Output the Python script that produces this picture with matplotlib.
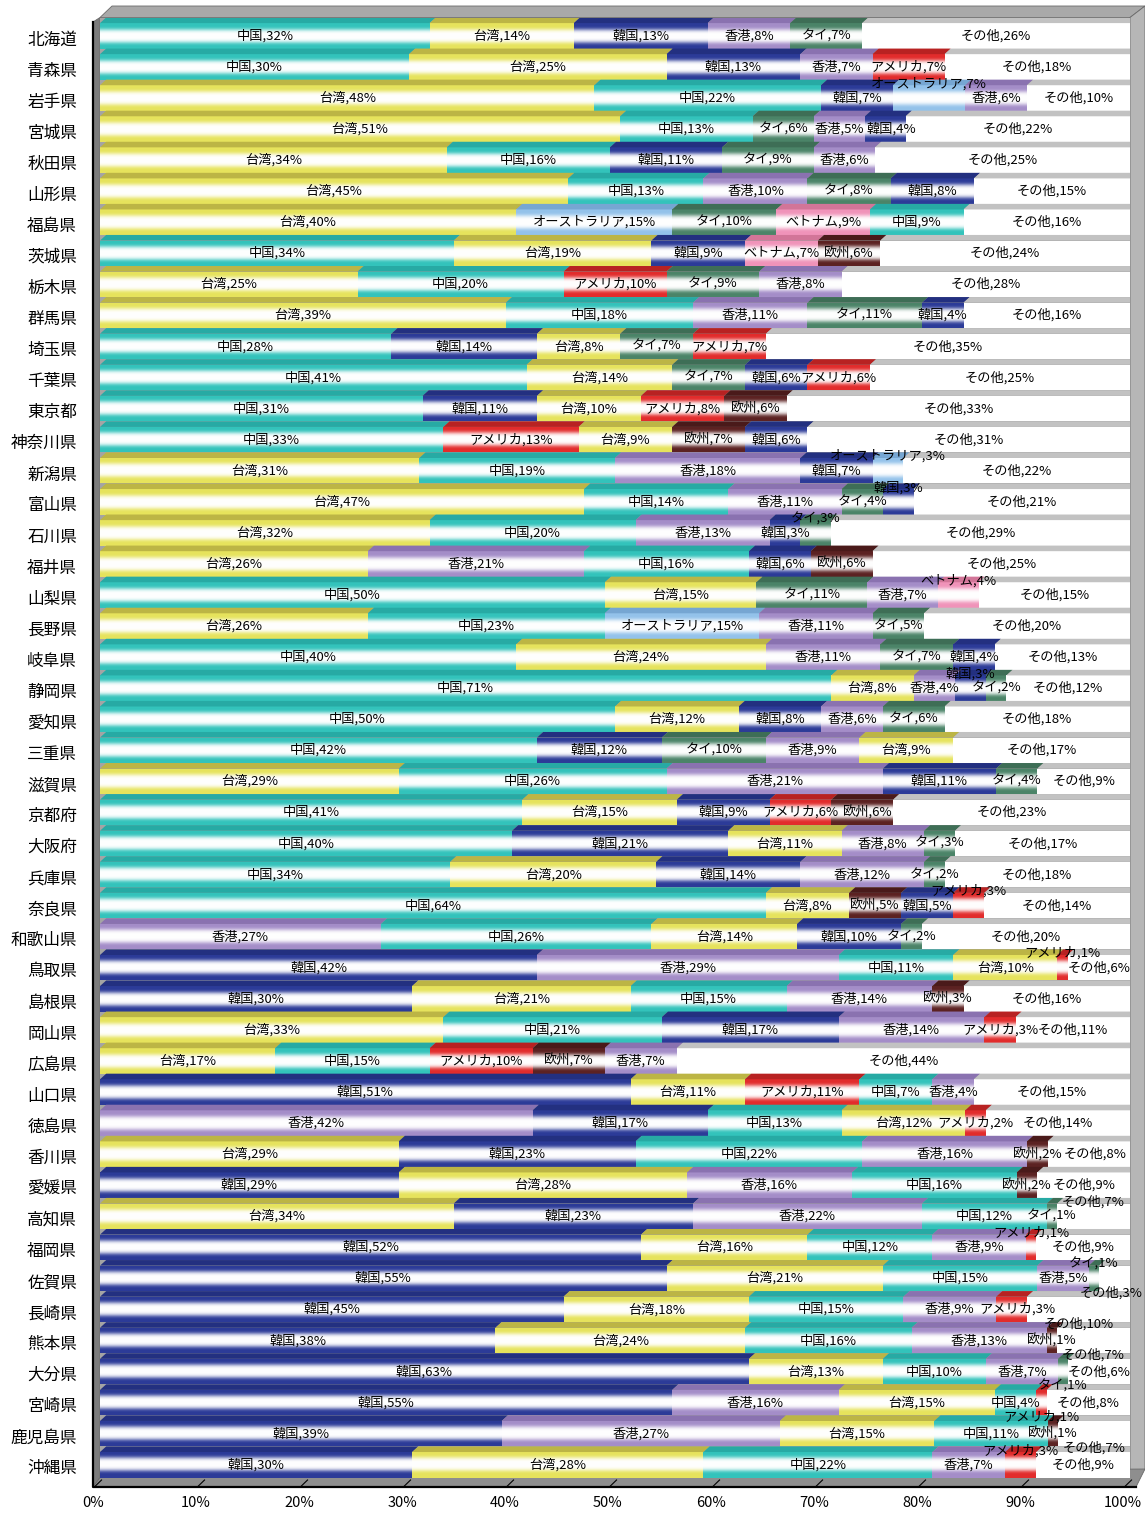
import numpy as np
import matplotlib
matplotlib.use('Agg')
import matplotlib.pyplot as plt
from matplotlib.patches import Polygon
from matplotlib.lines import Line2D
from matplotlib.transforms import ScaledTranslation, blended_transform_factory

plt.rcParams['font.family'] = ['Noto Sans CJK JP', 'DejaVu Sans']

prefectures = ['北海道', '青森県', '岩手県', '宮城県', '秋田県', '山形県', '福島県', '茨城県',
               '栃木県', '群馬県', '埼玉県', '千葉県', '東京都', '神奈川県', '新潟県', '富山県',
               '石川県', '福井県', '山梨県', '長野県', '岐阜県', '静岡県', '愛知県', '三重県',
               '滋賀県', '京都府', '大阪府', '兵庫県', '奈良県', '和歌山県', '鳥取県', '島根県',
               '岡山県', '広島県', '山口県', '徳島県', '香川県', '愛媛県', '高知県', '福岡県',
               '佐賀県', '長崎県', '熊本県', '大分県', '宮崎県', '鹿児島県', '沖縄県']

# countries of each stacked segment, left to right
countries = [
    ['中国', '台湾', '韓国', '香港', 'タイ', 'その他'],
    ['中国', '台湾', '韓国', '香港', 'アメリカ', 'その他'],
    ['台湾', '中国', '韓国', 'オーストラリア', '香港', 'その他'],
    ['台湾', '中国', 'タイ', '香港', '韓国', 'その他'],
    ['台湾', '中国', '韓国', 'タイ', '香港', 'その他'],
    ['台湾', '中国', '香港', 'タイ', '韓国', 'その他'],
    ['台湾', 'オーストラリア', 'タイ', 'ベトナム', '中国', 'その他'],
    ['中国', '台湾', '韓国', 'ベトナム', '欧州', 'その他'],
    ['台湾', '中国', 'アメリカ', 'タイ', '香港', 'その他'],
    ['台湾', '中国', '香港', 'タイ', '韓国', 'その他'],
    ['中国', '韓国', '台湾', 'タイ', 'アメリカ', 'その他'],
    ['中国', '台湾', 'タイ', '韓国', 'アメリカ', 'その他'],
    ['中国', '韓国', '台湾', 'アメリカ', '欧州', 'その他'],
    ['中国', 'アメリカ', '台湾', '欧州', '韓国', 'その他'],
    ['台湾', '中国', '香港', '韓国', 'オーストラリア', 'その他'],
    ['台湾', '中国', '香港', 'タイ', '韓国', 'その他'],
    ['台湾', '中国', '香港', '韓国', 'タイ', 'その他'],
    ['台湾', '香港', '中国', '韓国', '欧州', 'その他'],
    ['中国', '台湾', 'タイ', '香港', 'ベトナム', 'その他'],
    ['台湾', '中国', 'オーストラリア', '香港', 'タイ', 'その他'],
    ['中国', '台湾', '香港', 'タイ', '韓国', 'その他'],
    ['中国', '台湾', '香港', '韓国', 'タイ', 'その他'],
    ['中国', '台湾', '韓国', '香港', 'タイ', 'その他'],
    ['中国', '韓国', 'タイ', '香港', '台湾', 'その他'],
    ['台湾', '中国', '香港', '韓国', 'タイ', 'その他'],
    ['中国', '台湾', '韓国', 'アメリカ', '欧州', 'その他'],
    ['中国', '韓国', '台湾', '香港', 'タイ', 'その他'],
    ['中国', '台湾', '韓国', '香港', 'タイ', 'その他'],
    ['中国', '台湾', '欧州', '韓国', 'アメリカ', 'その他'],
    ['香港', '中国', '台湾', '韓国', 'タイ', 'その他'],
    ['韓国', '香港', '中国', '台湾', 'アメリカ', 'その他'],
    ['韓国', '台湾', '中国', '香港', '欧州', 'その他'],
    ['台湾', '中国', '韓国', '香港', 'アメリカ', 'その他'],
    ['台湾', '中国', 'アメリカ', '欧州', '香港', 'その他'],
    ['韓国', '台湾', 'アメリカ', '中国', '香港', 'その他'],
    ['香港', '韓国', '中国', '台湾', 'アメリカ', 'その他'],
    ['台湾', '韓国', '中国', '香港', '欧州', 'その他'],
    ['韓国', '台湾', '香港', '中国', '欧州', 'その他'],
    ['台湾', '韓国', '香港', '中国', 'タイ', 'その他'],
    ['韓国', '台湾', '中国', '香港', 'アメリカ', 'その他'],
    ['韓国', '台湾', '中国', '香港', 'タイ', 'その他'],
    ['韓国', '台湾', '中国', '香港', 'アメリカ', 'その他'],
    ['韓国', '台湾', '中国', '香港', '欧州', 'その他'],
    ['韓国', '台湾', '中国', '香港', 'タイ', 'その他'],
    ['韓国', '香港', '台湾', '中国', 'アメリカ', 'その他'],
    ['韓国', '香港', '台湾', '中国', '欧州', 'その他'],
    ['韓国', '台湾', '中国', '香港', 'アメリカ', 'その他'],
]

# share of visitors (%), same order as countries
shares = [
    [32, 14, 13, 8, 7, 26], [30, 25, 13, 7, 7, 18], [48, 22, 7, 7, 6, 10],
    [51, 13, 6, 5, 4, 22], [34, 16, 11, 9, 6, 25], [45, 13, 10, 8, 8, 15],
    [40, 15, 10, 9, 9, 16], [34, 19, 9, 7, 6, 24], [25, 20, 10, 9, 8, 28],
    [39, 18, 11, 11, 4, 16], [28, 14, 8, 7, 7, 35], [41, 14, 7, 6, 6, 25],
    [31, 11, 10, 8, 6, 33], [33, 13, 9, 7, 6, 31], [31, 19, 18, 7, 3, 22],
    [47, 14, 11, 4, 3, 21], [32, 20, 13, 3, 3, 29], [26, 21, 16, 6, 6, 25],
    [50, 15, 11, 7, 4, 15], [26, 23, 15, 11, 5, 20], [40, 24, 11, 7, 4, 13],
    [71, 8, 4, 3, 2, 12], [50, 12, 8, 6, 6, 18], [42, 12, 10, 9, 9, 17],
    [29, 26, 21, 11, 4, 9], [41, 15, 9, 6, 6, 23], [40, 21, 11, 8, 3, 17],
    [34, 20, 14, 12, 2, 18], [64, 8, 5, 5, 3, 14], [27, 26, 14, 10, 2, 20],
    [42, 29, 11, 10, 1, 6], [30, 21, 15, 14, 3, 16], [33, 21, 17, 14, 3, 11],
    [17, 15, 10, 7, 7, 44], [51, 11, 11, 7, 4, 15], [42, 17, 13, 12, 2, 14],
    [29, 23, 22, 16, 2, 8], [29, 28, 16, 16, 2, 9], [34, 23, 22, 12, 1, 7],
    [52, 16, 12, 9, 1, 9], [55, 21, 15, 5, 1, 3], [45, 18, 15, 9, 3, 10],
    [38, 24, 16, 13, 1, 7], [63, 13, 10, 7, 1, 6], [55, 16, 15, 4, 1, 8],
    [39, 27, 15, 11, 1, 7], [30, 28, 22, 7, 3, 9],
]

# (body colour, top face colour)
colors = {
    '中国': ('#33c3bb', '#27aaa4'),
    '台湾': ('#e6e35c', '#bcb545'),
    '韓国': ('#2c3b98', '#233080'),
    '香港': ('#a48dc8', '#8a72b0'),
    'タイ': ('#4b8468', '#3e6e56'),
    'アメリカ': ('#e22c2c', '#b82222'),
    'オーストラリア': ('#93c2ea', '#76a6d2'),
    'ベトナム': ('#f093b9', '#d27598'),
    '欧州': ('#5c2222', '#4a1a1a'),
    'その他': ('#ffffff', '#c2c2c2'),
}

W, H = 1145, 1513
fig = plt.figure(figsize=(W / 100, H / 100), dpi=100)
ax = fig.add_axes([100 / W, 1 - 1477.5 / H, 1030 / W, 1460 / H])
ax.set_facecolor('#a4a4a4')

def px(x, y):
    return (x / W, 1 - y / H)

# 3D walls around the plot area
walls = [
    ([(100, 17.5), (112, 6), (1145, 6), (1130, 17.5)], '#a9a9a9'),
    ([(93, 22), (100, 17.5), (100, 1477.5), (93, 1487)], '#7c7c7c'),
    ([(1130, 17.5), (1145, 6), (1145, 1469), (1130, 1477.5)], '#b6b6b6'),
    ([(93, 1487), (100, 1477.5), (1145, 1469), (1136, 1487)], '#8e8e8e'),
]
for pts, c in walls:
    fig.add_artist(Polygon([px(*p) for p in pts], closed=True, transform=fig.transFigure,
                           facecolor=c, edgecolor='#6a6a6a', lw=0.6, zorder=-1))
fig.add_artist(Line2D([93 / W, 93 / W, 1136 / W], [1 - 22 / H, 1 - 1487 / H, 1 - 1487 / H],
                      transform=fig.transFigure, color='black', lw=1.6, zorder=-1))

# cylinder highlight: broad white band in the middle of each bar
t = np.linspace(0, 1, 80)
glow = np.zeros((80, 1, 4))
glow[:, 0, :3] = 1.0
glow[:, 0, 3] = np.exp(-((t - 0.5) / 0.27) ** 4)

body_h = 0.82
body_off = -0.07
face_h = 0.18
dx = 0.6
label_size = 9.5

texts = []
for i, (names, vals) in enumerate(zip(countries, shares)):
    vals = np.array(vals, dtype=float)
    widths = vals / vals.sum() * 100
    lefts = np.concatenate([[0], np.cumsum(widths)[:-1]])
    yc = i + body_off
    ytop = yc - body_h / 2
    for name, w, l in zip(names, widths, lefts):
        body, face = colors[name]
        ax.barh(yc, w, left=l, height=body_h, color=body, edgecolor='none', zorder=1)
        ax.add_patch(Polygon([(l, ytop), (l + w, ytop), (l + w + dx, ytop - face_h), (l + dx, ytop - face_h)],
                             closed=True, facecolor=face, edgecolor='none', zorder=1))
    ax.imshow(glow, extent=(0, lefts[-1], yc + body_h / 2, ytop), aspect='auto',
              interpolation='bilinear', zorder=2)
    row = []
    for name, v, w, l in zip(names, shares[i], widths, lefts):
        tx = ax.text(l + w / 2, yc, f'{name},{v}%', ha='center', va='center', fontsize=label_size,
                     color='black', zorder=5)
        row.append(tx)
    texts.append(row)

ax.set_xlim(0, 100)
ax.set_ylim(46 + body_off + body_h / 2, -0.66)

# crowded labels are nudged sideways or moved up / down so they never collide
fig.canvas.draw()
renderer = fig.canvas.get_renderer()
pitch = ax.get_window_extent().height / 47
ink_h = label_size * 100 / 72 * 1.02
moves = [(0, 0), (6, 0), (-6, 0), (0, 1), (0, -1), (12, 0), (-12, 0),
         (8, 1), (-8, 1), (8, -1), (-8, -1), (16, 1), (-16, 1), (16, -1), (-16, -1),
         (20, 0), (-20, 0), (26, 1), (-26, 1), (26, -1), (-26, -1), (30, 0), (-30, 0)]
right_limit = 1143
placed = []
inv = ax.transData.inverted()
for row in texts:
    for tx in row:
        bb = tx.get_window_extent(renderer)
        cx, cy = (bb.x0 + bb.x1) / 2, (bb.y0 + bb.y1) / 2
        hw = bb.width / 2
        best, best_cost = None, None
        for hx, lev in moves:
            nx = cx + hx
            if nx + hw > right_limit:
                nx = right_limit - hw
            ny = cy + lev * 0.46 * pitch
            rect = (nx - hw, nx + hw, ny - ink_h / 2, ny + ink_h / 2)
            cost = 0.0
            for r in placed:
                ox = min(rect[1], r[1]) - max(rect[0], r[0])
                oy = min(rect[3], r[3]) - max(rect[2], r[2])
                if ox > 0.5 and oy > 0:
                    cost += ox * oy
            if best_cost is None or cost < best_cost:
                best, best_cost = (nx, ny, rect), cost
            if cost == 0:
                break
        nx, ny, rect = best
        tx.set_position(inv.transform((nx, ny)))
        placed.append(rect)

ax.set_yticks(range(len(prefectures)))
ax.set_yticklabels(prefectures, fontsize=12)
ax.set_xticks(range(0, 101, 10))
ax.set_xticklabels([f'{v}%' for v in range(0, 101, 10)], fontsize=10.5)
ax.tick_params(axis='y', length=0, pad=16.5)
ax.tick_params(axis='x', length=0, pad=13)
shift = ScaledTranslation(-0.07, 0, fig.dpi_scale_trans)
for lab in ax.get_xticklabels():
    lab.set_transform(lab.get_transform() + shift)
for s in ax.spines.values():
    s.set_visible(False)

# little marks on the floor
floor_tr = blended_transform_factory(ax.transData, fig.transFigure)
for v in range(0, 101, 10):
    ax.add_line(Line2D([v - 0.45, v + 0.15], [1 - 1486 / H, 1 - 1480 / H], transform=floor_tr,
                       color='black', lw=0.8, clip_on=False))

fig.savefig('out.png', dpi=100, facecolor='white')
